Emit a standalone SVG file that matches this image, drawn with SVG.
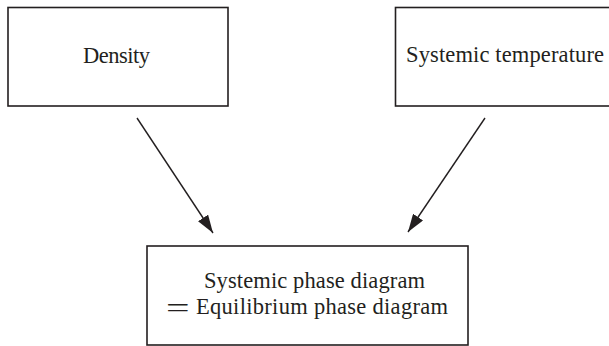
<svg xmlns="http://www.w3.org/2000/svg" width="609" height="346" viewBox="0 0 609 346">
<style>
.box{fill:#fff;stroke:#231f20;stroke-width:1.6}
.t{font-family:"Liberation Serif","Times New Roman",serif;font-size:22.5px;fill:#231f20}
.c{stroke:#231f20;stroke-width:1.4;fill:none}
</style>
<defs>
<marker id="ah" viewBox="0 0 18 12" refX="18" refY="6" markerWidth="18" markerHeight="12" markerUnits="userSpaceOnUse" orient="auto">
<path d="M0,0 L18,6 L0,12 Z" fill="#231f20"/>
</marker>
</defs>
<rect width="609" height="346" fill="#fff"/>
<g id="density">
<rect class="box" x="8" y="7.5" width="220" height="98.5"/>
<text class="t" x="83" y="63" textLength="67">Density</text>
</g>
<g id="temperature">
<rect class="box" x="395.5" y="7.5" width="220" height="98.5"/>
<text class="t" x="406" y="62" textLength="198">Systemic temperature</text>
</g>
<g id="phase">
<rect class="box" x="147" y="246" width="321" height="99"/>
<text class="t" x="204" y="288" textLength="221">Systemic phase diagram</text>
<text class="t" transform="translate(166,317) scale(1.9,1.2)" x="0" y="0" style="font-size:22px">=</text>
<text class="t" x="196" y="314" textLength="252">Equilibrium phase diagram</text>
</g>
<g id="connectors">
<line class="c" x1="137" y1="118" x2="213" y2="233" marker-end="url(#ah)"/>
<line class="c" x1="485" y1="118" x2="408" y2="232" marker-end="url(#ah)"/>
</g>
</svg>
